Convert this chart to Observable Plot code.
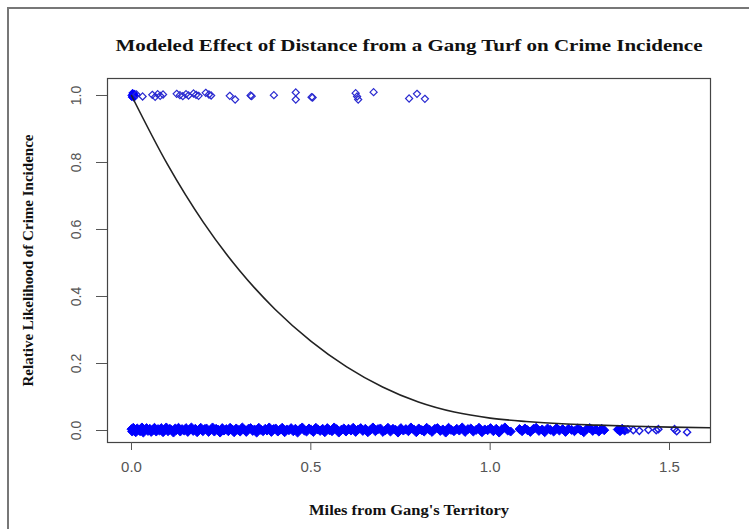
<!DOCTYPE html>
<html>
<head>
<meta charset="utf-8">
<script src="https://cdn.jsdelivr.net/npm/d3@7"></script>
<script src="https://cdn.jsdelivr.net/npm/@observablehq/plot@0.6"></script>
<style>
html, body { margin: 0; padding: 0; overflow: hidden; background: #fff; }
#wrap { position: relative; width: 749px; height: 529px; }
#border { position: absolute; left: 7px; top: 7px; width: 900px; height: 700px; border: 2px solid #777; pointer-events: none; }
</style>
</head>
<body>
<div id="wrap"><div id="border"></div></div>
<script>
const titleText = "Modeled Effect of Distance from a Gang Turf on Crime Incidence";
const xLabelText = "Miles from Gang's Territory";
const yLabelText = "Relative Likelihood of Crime Incidence";
const xTicks = [0, 0.5, 1.0, 1.5];
const yTicks = [0, 0.2, 0.4, 0.6, 0.8, 1.0];

// observed incidents (y = 1) packed at the turf edge, [miles, jittered value]
const oneCluster = [
  [0.000,1.000],[0.002,1.004],[0.004,0.997],[0.006,1.002],[0.001,0.995],[0.008,1.006],[0.011,0.999],[0.003,1.008],[0.007,0.993]
];
// observed incidents (y = 1) further out
const onePoints = [
  [0.014,1.003],[0.031,0.997],[0.058,1.002],[0.066,0.996],[0.073,1.004],[0.080,0.999],[0.088,1.003],
  [0.126,1.005],[0.135,1.001],[0.143,0.998],[0.152,1.004],[0.159,1.000],
  [0.173,1.006],[0.180,1.002],[0.187,0.999],[0.207,1.008],[0.216,1.003],[0.222,1.000],
  [0.274,0.999],[0.289,0.988],[0.332,1.000],[0.335,0.998],[0.397,1.001],
  [0.458,1.009],[0.458,0.988],[0.502,0.995],[0.505,0.994],
  [0.625,1.007],[0.629,0.997],[0.632,0.988],[0.675,1.010],
  [0.774,0.991],[0.796,1.005],[0.818,0.990]
];

// no incident (y = 0), densely packed part, [miles, jittered value]
const zeroDense = [
[0.000,0.004],[0.002,-0.003],[0.005,0.008],[0.009,0.001],[0.012,-0.005],[0.016,0.006],[0.021,0.002],[0.024,-0.002],[0.029,0.009],[0.033,-0.006],[0.037,0.003],[0.042,0.007],[0.046,-0.001],[0.051,0.005],[0.055,-0.004],[0.060,0.002],[0.064,0.008],[0.069,-0.003],[0.074,0.004],[0.078,0.000],[0.083,0.007],[0.088,-0.005],[0.093,0.003],[0.097,0.009],[0.102,-0.002],[0.107,0.005],[0.112,0.001],[0.117,-0.006],[0.122,0.006],[0.126,0.002],[0.131,0.008],[0.136,-0.003],[0.141,0.004],[0.147,0.000],[0.152,0.007],[0.157,-0.004],[0.162,0.003],[0.167,0.009],[0.172,-0.001],[0.178,0.005],[0.183,-0.005],[0.188,0.002],[0.193,0.008],[0.199,-0.002],[0.204,0.004],[0.209,0.006],[0.215,-0.004],[0.220,0.001],[0.226,0.009],[0.231,-0.003],[0.236,0.005],[0.242,0.002],[0.247,-0.006],[0.253,0.007],[0.258,0.000],[0.264,0.004],[0.270,-0.002],[0.275,0.008],[0.281,0.003],[0.286,-0.005],[0.292,0.006],[0.298,0.001],[0.303,-0.003],[0.309,0.009],[0.315,0.002],[0.320,-0.004],[0.326,0.005],[0.332,0.007],[0.338,-0.001],[0.343,0.003],[0.349,-0.006],[0.355,0.008],[0.361,0.002],[0.367,-0.002],[0.373,0.005],[0.378,0.000],[0.384,0.009],[0.390,-0.004],[0.396,0.004],[0.402,0.006],[0.408,-0.003],[0.414,0.002],[0.420,0.008],[0.427,-0.005],[0.433,0.003],[0.439,0.001],[0.445,0.007],[0.451,-0.002],[0.457,0.005],[0.463,-0.006],[0.470,0.004],[0.476,0.009],[0.482,0.000],[0.488,-0.003],[0.495,0.006],[0.501,0.002],[0.507,-0.004],[0.514,0.008],[0.520,0.003],[0.526,-0.001],[0.533,0.005],[0.539,-0.005],[0.546,0.007],[0.552,0.001],[0.559,-0.002],[0.565,0.009],[0.572,0.004],[0.578,-0.006],[0.585,0.002],[0.592,0.006],[0.598,-0.003],[0.605,0.005],[0.612,0.000],[0.618,0.008],[0.625,-0.004],[0.632,0.003],[0.639,0.007],[0.645,-0.001],[0.652,0.005],[0.659,-0.005],[0.666,0.002],[0.673,0.009],[0.680,-0.002],[0.687,0.004],[0.694,0.006],[0.701,-0.004],[0.708,0.001],[0.715,0.008],[0.722,-0.003],[0.729,0.005],[0.736,0.002],[0.743,-0.006],[0.751,0.007],[0.758,0.000],[0.765,0.004],[0.772,-0.002],[0.779,0.009],[0.787,0.003],[0.794,-0.005],[0.801,0.006],[0.809,0.001],[0.816,-0.003],[0.823,0.008],[0.831,0.002],[0.838,-0.004],[0.846,0.005],[0.853,0.007],[0.861,-0.001],[0.868,0.003],[0.876,-0.006],[0.884,0.008],[0.891,0.002],[0.899,-0.002],[0.907,0.005],[0.914,0.000],[0.922,0.009],[0.930,-0.004],[0.938,0.004],[0.946,0.006],[0.953,-0.003],[0.961,0.002],[0.969,0.008],[0.977,-0.005],[0.985,0.003],[0.993,0.001],[1.001,0.007],[1.009,-0.002],[1.017,0.005],[1.025,-0.006],[1.033,0.004],[1.041,0.009],[1.049,0.000],[1.057,-0.003],
[1.082,0.004],[1.089,-0.002],[1.097,0.006],[1.104,0.001],[1.112,-0.004],[1.121,0.005],[1.128,0.008],[1.136,-0.001],[1.145,0.003],[1.152,-0.005],[1.160,0.006],[1.168,0.002],[1.177,-0.003],[1.185,0.007],[1.193,0.000],[1.202,0.004],[1.210,-0.004],[1.218,0.005],[1.227,0.002],[1.235,-0.002],[1.244,0.006],[1.252,0.001],[1.261,-0.005],[1.269,0.004],[1.278,0.007],[1.286,-0.001],[1.295,0.003],[1.303,-0.003],[1.311,0.005],[1.318,0.001],
[1.356,0.003],[1.362,-0.002],[1.368,0.005],[1.375,0.000]
];
// no incident (y = 0), sparse tail
const zeroTail = [
[1.384,0.003],[1.399,0.001],[1.416,-0.001],[1.441,0.002],[1.463,0.001],[1.469,0.004],[1.514,0.004],[1.520,-0.002],[1.549,-0.005]
];

// modeled curve
const curveX = [0.0, 0.1, 0.2, 0.3, 0.4, 0.5, 0.6, 0.7, 0.8, 0.9, 1.0, 1.1, 1.2, 1.3, 1.4, 1.5, 1.62];
const curveY = [1.000, 0.795, 0.622, 0.479, 0.362, 0.267, 0.190, 0.130, 0.085, 0.055, 0.037, 0.027, 0.020, 0.016, 0.0125, 0.010, 0.008];

const curve = curveX.map((x, i) => ({x, y: curveY[i]}));
const fmt = d3.format(".1f");
const serif = "'Liberation Serif', 'Times New Roman', serif";

const chart = Plot.plot({
  width: 749,
  height: 529,
  marginLeft: 107,
  marginRight: 39,
  marginTop: 78,
  marginBottom: 87,
  style: {fontFamily: "'Liberation Sans', Arial, sans-serif", background: "transparent"},
  x: {domain: [-0.0669, 1.6143], axis: null},
  y: {domain: [-0.0358, 1.0507], axis: null},
  marks: [
    Plot.dot(zeroDense, {x: d => d[0], y: d => d[1], symbol: "diamond2", r: 4.1, stroke: "#0000ff", fill: "#0000ff", strokeWidth: 1}),
    Plot.dot(zeroTail, {x: d => d[0], y: d => d[1], symbol: "diamond2", r: 3.2, stroke: "#1a1ae0", strokeWidth: 1.4}),
    Plot.dot(oneCluster, {x: d => d[0], y: d => d[1], symbol: "diamond2", r: 3.2, stroke: "#0000ff", fill: "#0000ff", strokeWidth: 1}),
    Plot.dot(onePoints, {x: d => d[0], y: d => d[1], symbol: "diamond2", r: 3.2, stroke: "#2a2ad0", strokeWidth: 1.2}),
    Plot.line(curve, {x: "x", y: "y", stroke: "#222", strokeWidth: 1.6, curve: "monotone-x", clip: true}),
    Plot.frame({stroke: "#444", strokeWidth: 1.2}),
    Plot.axisX(xTicks, {tickSize: 8, tickPadding: 11, tickFormat: fmt, fontSize: 15, color: "#555", label: null}),
    Plot.axisY(yTicks, {tickSize: 11, tickFormat: () => "", color: "#555", label: null}),
    Plot.text(yTicks, {y: d => d, text: d => fmt(d), frameAnchor: "left", dx: -31, rotate: -90, textAnchor: "middle", lineAnchor: "middle", fill: "#555", fontSize: 14}),
    Plot.text([titleText], {text: d => d, frameAnchor: "top", dy: -33, textAnchor: "middle", lineAnchor: "middle", fontFamily: serif, fontWeight: "bold", fontSize: 16, fill: "#111", className: "ttl"}),
    Plot.text([xLabelText], {text: d => d, frameAnchor: "bottom", dy: 68, textAnchor: "middle", lineAnchor: "middle", fontFamily: serif, fontWeight: "bold", fontSize: 15, fill: "#111", className: "xlab"}),
    Plot.text([yLabelText], {text: d => d, frameAnchor: "left", dx: -79, rotate: -90, textAnchor: "middle", lineAnchor: "middle", fontFamily: serif, fontWeight: "bold", fontSize: 15, fill: "#111", className: "ylab"})
  ]
});

d3.select(chart).selectAll(".ttl text").attr("textLength", 587).attr("lengthAdjust", "spacingAndGlyphs");
d3.select(chart).selectAll(".xlab text").attr("textLength", 200).attr("lengthAdjust", "spacingAndGlyphs");
d3.select(chart).selectAll(".ylab text").attr("textLength", 252).attr("lengthAdjust", "spacingAndGlyphs");

chart.style.position = "absolute";
chart.style.left = "0px";
chart.style.top = "0px";
document.getElementById("wrap").insertBefore(chart, document.getElementById("border"));
</script>
</body>
</html>
